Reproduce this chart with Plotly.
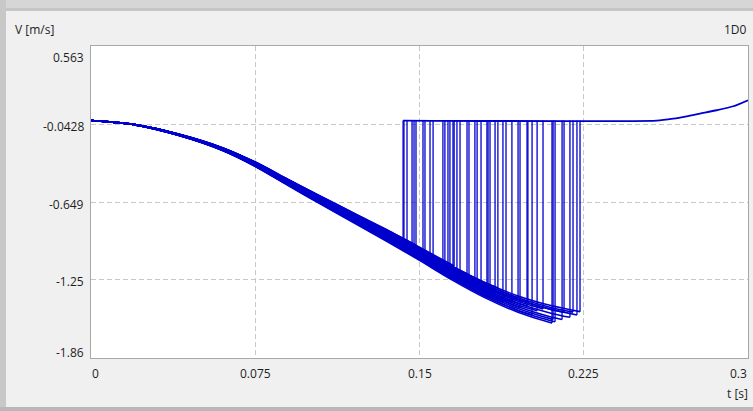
import numpy as np
import plotly.graph_objects as go

# ---------------- data ----------------
base_t = [0, 0.02, 0.04, 0.06, 0.075, 0.09, 0.105, 0.12, 0.135, 0.15, 0.165, 0.18, 0.195, 0.21, 0.225]
base_v = [-0.016, -0.048, -0.125, -0.235, -0.352, -0.492, -0.630, -0.765, -0.900, -1.040, -1.185, -1.315, -1.420, -1.497, -1.552]
v_top = -0.016

release_t = [0.1425, 0.1429, 0.1443, 0.1466, 0.1475, 0.1484, 0.1516, 0.1525, 0.1548, 0.1562,
             0.1607, 0.1616, 0.1630, 0.1639, 0.1653, 0.1658, 0.1671, 0.1685, 0.1717, 0.1726,
             0.1753, 0.1763, 0.1781, 0.1808, 0.1813, 0.1822, 0.1845, 0.1858, 0.1881, 0.1895,
             0.1922, 0.1950, 0.1959, 0.1991, 0.1995, 0.2014, 0.2037, 0.2064, 0.2105, 0.2110,
             0.2119, 0.2151, 0.2160, 0.2187, 0.2201, 0.2219, 0.2233]
curve_scale = [1.00, 0.97, 1.03, 0.99, 1.02, 0.96, 1.04, 0.98, 1.01, 1.03,
               0.97, 1.00, 1.05, 0.98, 1.02, 0.96, 1.01, 1.04, 0.99, 0.97,
               1.03, 1.00, 1.02, 0.98, 1.05, 0.99, 1.01, 0.97, 1.04, 1.00,
               1.02, 0.98, 1.03, 1.01, 0.99, 1.05, 1.02, 1.00, 1.06, 1.04,
               1.05, 1.03, 0.99, 1.01, 0.98, 0.99, 0.97]

tail_t = [0.1425, 0.2583, 0.2659, 0.2720, 0.2781, 0.2857, 0.2933, 0.3]
tail_v = [-0.016, -0.016, -0.001, 0.017, 0.038, 0.064, 0.095, 0.142]

y_tick_vals = [0.563, -0.0428, -0.649, -1.25, -1.86]
y_tick_text = ["0.563", "-0.0428", "-0.649", "-1.25", "-1.86"]
x_tick_vals = [0, 0.075, 0.15, 0.225, 0.3]
x_tick_text = ["0", "0.075", "0.15", "0.225", "0.3"]

# ---------------- build traces ----------------
LINE = "#0000CD"
desc_x, desc_y, jump_x, jump_y = [], [], [], []
for tr, s in zip(release_t, curve_scale):
    for t, v in zip(base_t, base_v):
        if t < tr:
            desc_x.append(t)
            desc_y.append(v_top + (v - v_top) * s)
    vr = v_top + (float(np.interp(tr, base_t, base_v)) - v_top) * s
    desc_x += [tr, None]
    desc_y += [vr, None]
    jump_x += [tr, tr, None]
    jump_y += [vr, v_top, None]

fig = go.Figure()
fig.add_trace(go.Scatter(x=desc_x, y=desc_y, mode="lines",
                         line=dict(color=LINE, width=1.6, shape="spline", smoothing=0.8),
                         connectgaps=False, showlegend=False, hoverinfo="skip"))
fig.add_trace(go.Scatter(x=jump_x, y=jump_y, mode="lines",
                         line=dict(color=LINE, width=1.3), showlegend=False, hoverinfo="skip"))
fig.add_trace(go.Scatter(x=tail_t, y=tail_v, mode="lines",
                         line=dict(color=LINE, width=1.8, shape="spline", smoothing=0.6),
                         showlegend=False, hoverinfo="skip"))

# ---------------- layout ----------------
W, H = 753, 411
L, R, T, B = 91, 748, 46, 358

def px(xp):
    return (xp - L) / (R - L)

def py(yp):
    return (B - yp) / (B - T)

shapes = [
    dict(type="rect", xref="paper", yref="paper", x0=px(0), x1=px(W), y0=py(0), y1=py(11),
         fillcolor="#d6d6d6", line=dict(width=0), layer="above"),
    dict(type="rect", xref="paper", yref="paper", x0=px(0), x1=px(W), y0=py(8), y1=py(11),
         fillcolor="#c6c6c6", line=dict(width=0), layer="above"),
    dict(type="rect", xref="paper", yref="paper", x0=px(0), x1=px(6), y0=py(0), y1=py(H),
         fillcolor="#c8c8c8", line=dict(width=0), layer="above"),
    dict(type="rect", xref="paper", yref="paper", x0=px(0), x1=px(W), y0=py(407), y1=py(H),
         fillcolor="#b8b8b8", line=dict(width=0), layer="above"),
]

FONT = "Open Sans"
TXT = "#1e1e1e"
annotations = []
y_shifts = [-11, -2, -2, -2, 6]
for v, txt, ys in zip(y_tick_vals, y_tick_text, y_shifts):
    annotations.append(dict(x=0, xref="paper", y=v, yref="y", text=txt, showarrow=False,
                            xanchor="right", yanchor="middle", xshift=-5, yshift=ys,
                            font=dict(family=FONT, size=12, color=TXT)))
x_anchor = ["left", "center", "center", "center", "right"]
x_shifts = [-1, 0, 0, 0, 1]
for v, txt, xa, xs in zip(x_tick_vals, x_tick_text, x_anchor, x_shifts):
    annotations.append(dict(x=v, xref="x", y=0, yref="paper", text=txt, showarrow=False,
                            xanchor=xa, yanchor="middle", xshift=xs, yshift=-15,
                            font=dict(family=FONT, size=12, color=TXT)))
annotations += [
    dict(x=1, xref="paper", y=0, yref="paper", text="t [s]", showarrow=False,
         xanchor="right", yanchor="middle", xshift=2, yshift=-35,
         font=dict(family=FONT, size=12, color=TXT)),
    dict(x=0, xref="paper", y=1, yref="paper", text="V [m/s]", showarrow=False,
         xanchor="left", yanchor="middle", xshift=-78, yshift=17,
         font=dict(family=FONT, size=12, color=TXT)),
    dict(x=1, xref="paper", y=1, yref="paper", text="1D0", showarrow=False,
         xanchor="right", yanchor="middle", xshift=1, yshift=17,
         font=dict(family=FONT, size=12, color=TXT)),
]

fig.update_layout(
    width=W, height=H,
    margin=dict(l=L, r=W - R, t=T, b=H - B, pad=0),
    paper_bgcolor="#f0f0f0", plot_bgcolor="white",
    shapes=shapes, annotations=annotations,
    showlegend=False,
)
fig.update_xaxes(range=[0, 0.3], tickvals=x_tick_vals, showticklabels=False,
                 showgrid=True, gridcolor="#c8c8c8", griddash="5px,3px", gridwidth=1,
                 showline=True, mirror=True, linecolor="#a8a8a8", linewidth=1,
                 zeroline=False, ticks="")
fig.update_yaxes(range=[-1.86, 0.563], tickvals=y_tick_vals, showticklabels=False,
                 showgrid=True, gridcolor="#c8c8c8", griddash="5px,3px", gridwidth=1,
                 showline=True, mirror=True, linecolor="#a8a8a8", linewidth=1,
                 zeroline=False, ticks="")

fig.write_html("out.html")
